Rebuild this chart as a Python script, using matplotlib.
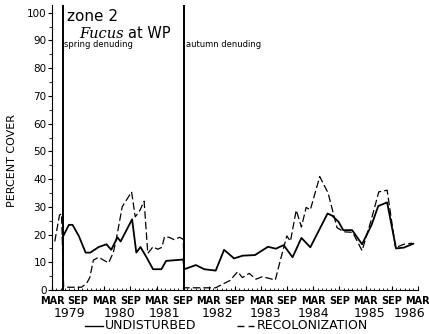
import matplotlib
matplotlib.use("Agg")
import matplotlib.pyplot as plt
import matplotlib.transforms as mtransforms
from matplotlib.lines import Line2D

# Fucus percent cover, zone 2 at WP (decimal years)
undist_t = [1979.37, 1979.49, 1979.56, 1979.68, 1979.81, 1979.90, 1980.06, 1980.21,
            1980.30, 1980.42, 1980.48, 1980.70, 1980.78, 1980.86, 1980.97, 1981.10,
            1981.26, 1981.35, 1981.68, 1981.70, 1981.92, 1982.08, 1982.30, 1982.46,
            1982.65, 1982.82, 1983.05, 1983.30, 1983.45, 1983.60, 1983.77, 1983.94,
            1984.11, 1984.44, 1984.53, 1984.65, 1984.74, 1984.91, 1985.10, 1985.28,
            1985.41, 1985.58, 1985.75, 1985.90, 1986.08]
undist_v = [19.0, 23.5, 23.5, 19.5, 13.5, 13.5, 15.5, 16.5,
            14.5, 19.0, 17.5, 25.5, 13.5, 15.5, 12.0, 7.5,
            7.5, 10.5, 11.0, 7.5, 9.0, 7.5, 7.0, 14.5,
            11.4, 12.4, 12.6, 15.6, 14.9, 16.2, 11.8, 18.8,
            15.4, 27.6, 26.8, 24.6, 21.6, 21.6, 16.5, 23.4,
            30.3, 31.6, 15.0, 15.3, 16.7]

recol_t = [1979.22, 1979.31, 1979.35, 1979.39, 1979.73, 1979.83, 1979.89, 1979.96,
           1980.06, 1980.15, 1980.25, 1980.34, 1980.40, 1980.51, 1980.69, 1980.76,
           1980.84, 1980.93, 1981.00, 1981.10, 1981.19, 1981.27, 1981.32, 1981.41,
           1981.50, 1981.61, 1981.68, 1981.70, 1982.30, 1982.42, 1982.57, 1982.72,
           1982.81, 1982.94, 1983.07, 1983.19, 1983.32, 1983.44, 1983.54, 1983.66,
           1983.73, 1983.84, 1983.94, 1984.03, 1984.11, 1984.29, 1984.45, 1984.62,
           1984.75, 1984.92, 1985.10, 1985.27, 1985.42, 1985.58, 1985.74, 1985.90,
           1986.06]
recol_v = [17.5, 27.0, 27.5, 1.0, 1.0, 2.4, 4.5, 10.8,
           11.8, 10.8, 9.8, 13.5, 18.6, 30.0, 35.4, 26.4,
           28.4, 32.0, 13.2, 15.6, 14.7, 15.4, 19.2, 19.0,
           18.2, 19.0, 18.3, 0.8, 0.8, 2.0, 3.4, 6.6,
           4.5, 6.0, 3.9, 4.8, 4.2, 3.6, 11.0, 19.5,
           17.6, 28.8, 22.7, 29.8, 28.9, 40.9, 35.0, 22.5,
           21.0, 20.8, 14.2, 24.9, 35.4, 36.0, 15.3, 16.5,
           16.9]

denude_t = [1979.37, 1981.70]
denude_labels = ["spring denuding", "autumn denuding"]

tick_t = [1979.167 + 0.5 * i for i in range(15)]
tick_labels = ["MAR", "SEP"] * 7 + ["MAR"]
year_t = [1979.51, 1980.46, 1981.32, 1982.33, 1983.26, 1984.18, 1985.24, 1986.00]
year_labels = ["1979", "1980", "1981", "1982", "1983", "1984", "1985", "1986"]

narrow = ["Liberation Sans Narrow", "DejaVu Sans"]

fig = plt.figure(figsize=(4.29, 3.34), dpi=100)
ax = fig.add_axes([0.1212, 0.1317, 0.8531, 0.8533])

ax.plot(undist_t, undist_v, color="black", lw=1.3)
ax.plot(recol_t, recol_v, color="black", lw=0.9, ls=(0, (6, 2.5)))

for t in denude_t:
    ax.axvline(t, color="black", lw=1.4)
for t, lab in zip(denude_t, denude_labels):
    ax.text(t + 0.03, 88.5, lab, fontsize=6, va="center", ha="left")

ax.text(1979.46, 98.5, "zone 2", fontsize=11, va="center", ha="left")
ax.text(1979.68, 92.5, "Fucus", fontsize=10.5, family="DejaVu Serif", style="italic",
        va="center", ha="left")
ax.text(1980.62, 92.5, "at WP", fontsize=10.5, va="center", ha="left")

ax.set_xlim(1979.2, 1986.17)
ax.set_ylim(0, 102.8)
ax.spines["top"].set_visible(False)
ax.spines["right"].set_visible(False)

ax.set_yticks(range(0, 101, 10))
ax.set_yticks(range(5, 101, 10), minor=True)
ax.tick_params(axis="y", which="major", direction="out", length=3, labelsize=7.5, pad=1)
ax.tick_params(axis="y", which="minor", direction="out", length=2)

ax.set_xticks(tick_t)
ax.set_xticklabels(tick_labels, fontsize=7, fontweight="bold", family=narrow)
ax.set_xticks([1979.25 + i / 12 for i in range(83)], minor=True)
ax.tick_params(axis="x", which="major", direction="in", length=3, pad=4)
ax.tick_params(axis="x", which="minor", direction="in", length=1.5)

year_trans = mtransforms.blended_transform_factory(ax.transData, fig.transFigure)
for t, lab in zip(year_t, year_labels):
    ax.text(t, 0.061, lab, fontsize=9, ha="center", va="center", transform=year_trans)

fig.text(0.028, 0.52, "PERCENT COVER", rotation=90, fontsize=8, ha="center", va="center")

# legend drawn by hand under the year labels
fig.add_artist(Line2D([85 / 429, 103 / 429], [0.024, 0.024], color="black", lw=1.0))
fig.text(105 / 429, 0.024, "UNDISTURBED", fontsize=9, ha="left", va="center", family=narrow)
fig.add_artist(Line2D([237 / 429, 254 / 429], [0.024, 0.024], color="black", lw=1.0,
                      ls=(0, (5, 3))))
fig.text(257 / 429, 0.024, "RECOLONIZATION", fontsize=9, ha="left", va="center", family=narrow)

fig.savefig("out.png", dpi=100)
